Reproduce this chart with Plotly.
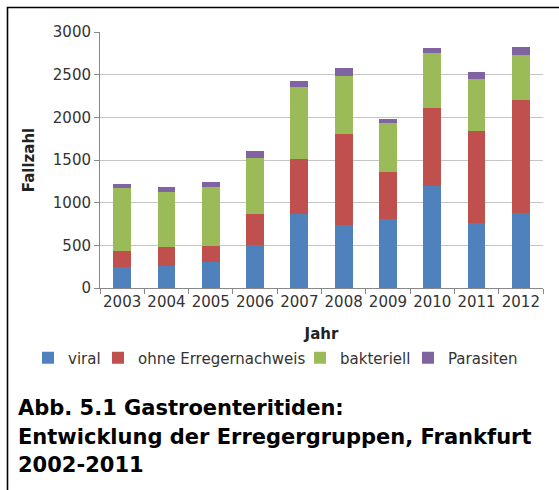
import plotly.graph_objects as go

# Gastroenteritis cases in Frankfurt by pathogen group
years = ["2003", "2004", "2005", "2006", "2007", "2008", "2009", "2010", "2011", "2012"]
viral = [242, 254, 301, 506, 870, 744, 811, 1195, 760, 877]
ohne_erreger = [197, 223, 196, 364, 647, 1055, 553, 917, 1081, 1329]
bakteriell = [732, 647, 686, 650, 842, 689, 564, 640, 612, 530]
parasiten = [52, 59, 59, 86, 71, 91, 55, 66, 74, 86]

series_names = ["viral", "ohne Erregernachweis", "bakteriell", "Parasiten"]
series_values = [viral, ohne_erreger, bakteriell, parasiten]
series_colors = ["#4F81BD", "#C0504D", "#9BBB59", "#8064A2"]

W, H = 559, 490
ML, MR, MT, MB = 100, 16, 32, 202
PW, PH = W - ML - MR, H - MT - MB


def px_x(x):
    return (x - ML) / PW


def px_y(y):
    return (H - MB - y) / PH


font_main = "DejaVu Sans, Verdana, sans-serif"

fig = go.Figure()
legend_ids = ["legend", "legend2", "legend3", "legend4"]
for name, vals, color, lid in zip(series_names, series_values, series_colors, legend_ids):
    fig.add_trace(
        go.Bar(x=years, y=vals, name=name, legend=lid,
               marker=dict(color=color, line=dict(width=0)))
    )

# one legend box per series so each entry sits at its own x position
legend_left = [28, 98, 300, 408]
legend_cfg = {}
for lid, left in zip(legend_ids, legend_left):
    legend_cfg[lid] = dict(
        orientation="h",
        x=px_x(left),
        xanchor="left",
        y=px_y(358),
        yanchor="middle",
        font=dict(size=15, color="#333333"),
        itemwidth=30,
        bgcolor="rgba(0,0,0,0)",
    )

fig.update_layout(
    width=W,
    height=H,
    barmode="stack",
    bargap=0.6,
    margin=dict(l=ML, r=MR, t=MT, b=MB),
    paper_bgcolor="white",
    plot_bgcolor="white",
    font=dict(family=font_main, size=15, color="#333333"),
    showlegend=True,
    **legend_cfg,
    xaxis=dict(
        type="category",
        tickangle=0,
        showline=True,
        linecolor="#888888",
        linewidth=1,
        ticks="outside",
        tickson="boundaries",
        ticklen=5,
        tickcolor="#888888",
        showgrid=False,
        tickfont=dict(size=15, color="#333333"),
        title=dict(text="<b>Jahr</b>", font=dict(size=15, color="#222222"), standoff=18),
    ),
    yaxis=dict(
        range=[0, 3000],
        dtick=500,
        showline=True,
        linecolor="#888888",
        linewidth=1,
        ticks="outside",
        ticklen=5,
        tickcolor="#888888",
        showgrid=True,
        gridcolor="#C4C4C4",
        gridwidth=1,
        zeroline=False,
        tickfont=dict(size=15, color="#333333"),
        title=dict(text="<b>Fallzahl</b>", font=dict(size=15, color="#222222"), standoff=14),
    ),
)

# frame lines along the top and left edge
fig.add_shape(
    type="path",
    xref="paper",
    yref="paper",
    path=f"M {px_x(7.5)},{px_y(495)} L {px_x(7.5)},{px_y(7.5)} L {px_x(565)},{px_y(7.5)}",
    line=dict(color="black", width=1.6),
)

caption = [
    ("Abb. 5.1 Gastroenteritiden:", 408),
    ("Entwicklung der Erregergruppen, Frankfurt", 437),
    ("2002-2011", 465),
]
for text, yc in caption:
    fig.add_annotation(
        text=f"<b>{text}</b>",
        xref="paper",
        yref="paper",
        x=px_x(16),
        y=px_y(yc),
        xanchor="left",
        yanchor="middle",
        showarrow=False,
        font=dict(family=font_main, size=21, color="black"),
    )

fig.write_html("out.html")
